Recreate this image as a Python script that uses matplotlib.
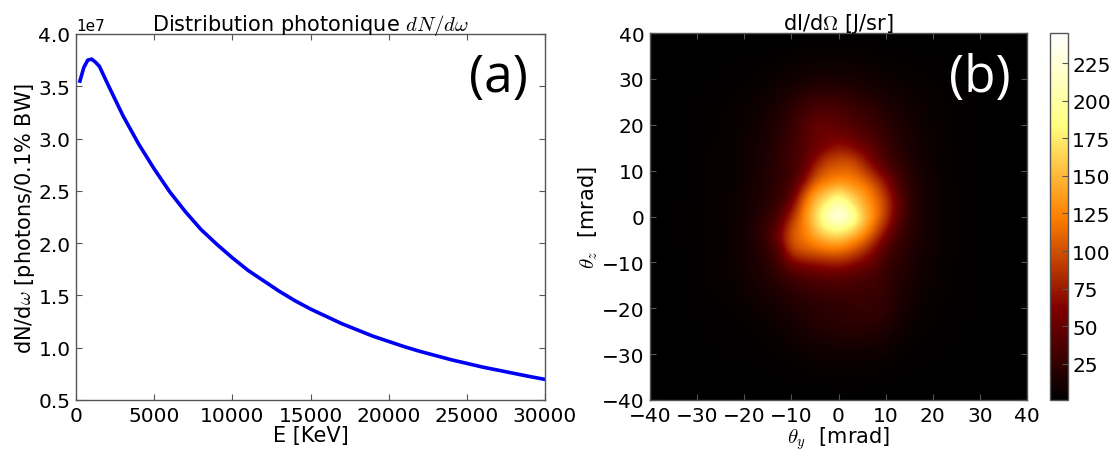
# -*- coding: utf-8 -*-
import numpy as np
import matplotlib
matplotlib.use('Agg')
import matplotlib.pyplot as plt

plt.rcParams['mathtext.fontset'] = 'cm'
plt.rcParams['font.family'] = 'DejaVu Sans'

# spectre
energy = [250, 500, 750, 1000, 1250, 1500, 2000, 3000, 4000, 5000, 6000, 7000, 8000, 9000, 10000,
          11000, 12000, 13000, 14000, 15000, 16000, 17000, 18000, 19000, 20000, 21000, 22000, 23000,
          24000, 25000, 26000, 27000, 28000, 29000, 29900]
dn_domega = [3.55e7, 3.68e7, 3.75e7, 3.76e7, 3.73e7, 3.69e7, 3.53e7, 3.22e7, 2.95e7, 2.71e7, 2.49e7, 2.30e7, 2.13e7, 1.99e7, 1.86e7,
             1.74e7, 1.64e7, 1.54e7, 1.45e7, 1.37e7, 1.30e7, 1.23e7, 1.17e7, 1.11e7, 1.06e7, 1.01e7, 0.965e7, 0.925e7,
             0.885e7, 0.85e7, 0.815e7, 0.785e7, 0.755e7, 0.725e7, 0.70e7]

# carte angulaire, pas de 2.5 mrad, lignes de theta_z=40 a -40, colonnes de theta_y=-40 a 40
intensity = [
    [1,1,1,1,1,1,1,1,1,1, 1,1,1,1,2,2,2,2,2,1,1,1,1, 1,1,1,1,1,1,1,1,1,1],
    [1,1,1,1,1,1,1,1,1,1, 2,2,2,3,3,3,3,3,3,2,2,2,2, 1,1,1,1,1,1,1,1,1,1],
    [1,1,1,1,1,1,2,2,2,2, 3,3,4,4,5,5,5,5,4,4,3,3,3, 2,2,2,1,1,1,1,1,1,1],
    [1,1,1,1,1,2,2,2,3,3, 4,5,6,7,8,8,8,8,7,6,5,4,4, 3,3,2,2,2,2,1,1,1,1],
    [1,1,1,1,2,2,2,3,3,4, 5,7,9,10,12,13,12,12,10,9,7,6,5, 4,3,3,2,2,2,1,1,1,1],
    [1,1,1,2,2,2,3,3,4,5, 7,10,13,17,20,21,19,18,15,12,10,8,6, 5,4,3,3,2,2,1,1,1,1],
    [1,1,1,2,2,3,3,4,5,7, 9,13,19,25,31,32,29,27,23,19,14,10,8, 6,5,4,3,2,2,2,1,1,1],
    [1,1,2,2,3,3,4,4,6,8, 11,16,24,32,40,41,38,34,29,24,18,13,10, 7,5,4,3,3,2,2,1,1,1],
    [1,1,2,2,3,3,4,5,6,9, 13,18,27,37,48,48,44,40,34,28,22,15,11, 8,6,4,3,3,2,2,1,1,1],
    [1,1,2,2,3,3,4,5,7,10, 14,20,28,38,50,54,56,50,42,34,26,18,13, 8,6,4,3,3,2,2,1,1,1],
    [1,1,2,2,3,4,4,5,7,10, 15,21,30,40,50,60,72,66,56,44,30,20,14, 9,6,5,3,3,2,2,1,1,1],
    [1,1,2,2,3,4,4,5,8,11, 16,22,32,42,62,90,96,96,76,52,34,24,16, 10,7,5,3,3,2,2,1,1,1],
    [1,1,2,2,3,4,4,5,8,11, 17,23,30,42,85,105,110,112,98,72,48,30,20, 11,7,5,3,3,2,2,1,1,1],
    [1,1,2,2,3,4,4,5,8,12, 17,24,34,60,108,122,132,128,118,98,68,38,22, 12,8,5,3,3,2,2,1,1,1],
    [1,1,2,2,3,4,5,6,9,13, 18,26,38,92,140,155,180,155,140,115,85,45,24, 13,9,5,4,3,2,2,1,1,1],
    [1,1,2,3,3,4,5,6,9,14, 20,30,55,115,155,185,215,185,150,125,95,50,26, 13,9,5,4,3,2,2,1,1,1],
    [1,1,2,3,3,4,5,6,10,15, 25,36,80,122,165,210,245,215,165,128,90,46,25, 13,9,5,4,3,2,2,1,1,1],
    [1,1,2,3,3,4,5,7,11,17, 28,50,100,120,155,185,195,180,150,112,75,38,22, 12,9,5,4,3,2,2,1,1,1],
    [1,1,2,3,3,4,5,7,11,17, 30,55,105,115,135,148,155,140,118,90,50,30,20, 12,8,5,4,3,2,2,1,1,1],
    [1,1,2,2,3,4,5,7,10,15, 24,38,92,102,108,114,116,104,88,62,36,25,18, 11,8,5,4,3,2,2,1,1,1],
    [1,1,2,2,3,4,5,7,10,14, 20,34,58,68,72,76,80,72,60,48,30,22,16, 10,7,5,3,3,2,2,1,1,1],
    [1,1,2,2,3,4,5,6,9,13, 18,26,35,42,46,48,50,44,40,35,26,19,14, 9,6,4,3,3,2,2,1,1,1],
    [1,1,2,2,3,4,4,6,8,11, 15,18,24,28,32,34,35,34,32,30,26,18,13, 8,6,4,3,3,2,2,1,1,1],
    [1,1,2,2,3,3,4,5,7,9, 12,15,19,22,25,27,28,28,28,27,25,16,11, 7,5,4,3,2,2,2,1,1,1],
    [1,1,2,2,2,3,3,4,5,7, 9,11,15,18,20,22,23,24,25,25,24,15,10, 6,4,3,3,2,2,1,1,1,1],
    [1,1,1,2,2,3,3,3,4,5, 7,9,12,15,18,20,21,22,23,22,20,13,8, 5,4,3,2,2,2,1,1,1,1],
    [1,1,1,1,2,2,2,3,3,4, 5,7,10,12,15,17,18,19,19,17,14,9,6, 4,3,3,2,2,1,1,1,1,1],
    [1,1,1,1,2,2,2,2,3,3, 4,5,7,9,10,12,13,13,13,12,10,7,5, 3,3,2,2,2,1,1,1,1,1],
    [1,1,1,1,1,2,2,2,2,3, 3,4,5,6,7,8,8,8,8,7,6,4,3, 3,2,2,2,1,1,1,1,1,1],
    [1,1,1,1,1,1,2,2,2,2, 2,3,3,4,5,5,5,5,5,5,4,3,3, 2,2,2,1,1,1,1,1,1,1],
    [1,1,1,1,1,1,1,1,1,2, 2,2,2,3,3,3,4,4,3,3,3,2,2, 2,1,1,1,1,1,1,1,1,1],
    [1,1,1,1,1,1,1,1,1,1, 1,2,2,2,2,2,2,2,2,2,2,2,1, 1,1,1,1,1,1,1,1,1,1],
    [1,1,1,1,1,1,1,1,1,1, 1,1,1,1,1,1,2,2,1,1,1,1,1, 1,1,1,1,1,1,1,1,1,1],
]
cbar_ticks = [25, 50, 75, 100, 125, 150, 175, 200, 225]

W, H = 1118.0, 452.0
fig = plt.figure(figsize=(W / 100, H / 100), dpi=100)
EDGE = '#555555'

# (a) distribution photonique
ax1 = fig.add_axes([76 / W, 1 - 401 / H, 469 / W, 366 / H])
ax1.plot(energy, dn_domega, color='#0000f5', lw=2.6)
ax1.set_xlim(0, 30000)
ax1.set_ylim(0.5e7, 4.0e7)
ax1.set_xticks(range(0, 30001, 5000))
ax1.tick_params(direction='in', top=True, right=True, labelsize=14.5, length=4, color=EDGE, pad=4)
ax1.yaxis.get_offset_text().set_fontsize(11)
ax1.set_xlabel('E [KeV]', fontsize=15, labelpad=0)
ax1.set_ylabel(r'dN/d$\omega$ [photons/0.1% BW]', fontsize=15, labelpad=1)
ax1.set_title(r'Distribution photonique $dN/d\omega$', fontsize=15, pad=3)
ax1.text(0.90, 0.88, '(a)', transform=ax1.transAxes, ha='center', va='center',
         fontsize=37, family='Open Sans', color='black')

# (b) dI/dOmega
ax2 = fig.add_axes([650 / W, 1 - 401 / H, 377 / W, 367 / H])
img = ax2.imshow(np.array(intensity), cmap='afmhot', vmin=1, vmax=245, interpolation='bicubic',
                 extent=[-41.25, 41.25, -41.25, 41.25], aspect='auto')
ax2.set_xlim(-40, 40)
ax2.set_ylim(-40, 40)
ax2.set_xticks(range(-40, 41, 10))
ax2.set_yticks(range(-40, 41, 10))
ax2.tick_params(direction='in', top=True, right=True, labelsize=14.5, length=4, color=EDGE, pad=4)
ax2.set_xlabel(r'$\theta_y$  [mrad]', fontsize=15, labelpad=0)
ax2.set_ylabel(r'$\theta_z$  [mrad]', fontsize=15, labelpad=1)
ax2.set_title(r'dI/d$\Omega$ [J/sr]', fontsize=15, pad=3)
ax2.text(0.875, 0.88, '(b)', transform=ax2.transAxes, ha='center', va='center',
         fontsize=37, family='Open Sans', color='white')

cax = fig.add_axes([1050 / W, 1 - 401 / H, 18 / W, 367 / H])
cbar = fig.colorbar(img, cax=cax, ticks=cbar_ticks)
cbar.ax.tick_params(direction='in', labelsize=14.5, length=4, color=EDGE, pad=3)

for ax in (ax1, ax2, cax):
    for spine in ax.spines.values():
        spine.set_color(EDGE)
        spine.set_linewidth(1.0)

fig.savefig('out.png', dpi=100)
